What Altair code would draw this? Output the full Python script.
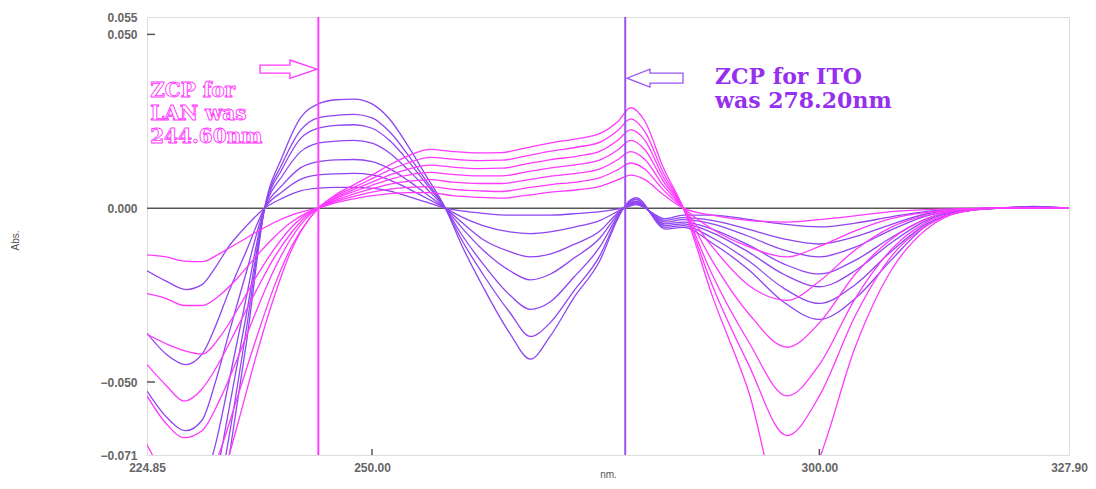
import altair as alt
import pandas as pd

# ---------------- data ----------------
# purple family (ITO-like curves)
wl_p = [224.85, 227, 229.2, 231, 232.5, 234, 236, 238, 240, 242, 244, 246, 248, 250, 252, 254,
        256, 258.2, 260, 262.4, 265.4, 267.7, 269.9, 272.5, 275.5, 277.4, 278.1, 279.5, 282.8,
        284.8, 288, 292, 296, 300, 304, 308, 312, 316, 320, 324, 327.9]
P1 = [-0.095, -0.105, -0.112, -0.110, -0.095, -0.072, -0.038, 0,
      0.015, 0.026, 0.030, 0.0312, 0.0314, 0.030, 0.0255, 0.018, 0.0095, 0,
      -0.0105, -0.0226, -0.036, -0.0434, -0.0369, -0.026, -0.0149, -0.0034, 0,
      0.003, -0.006, -0.0055, -0.010, -0.0175, -0.027, -0.032, -0.026, -0.015, -0.005, -0.001, 0, 0.0005, 0]
P2 = [-0.088, -0.097, -0.103, -0.100, -0.087, -0.066, -0.034, 0,
      0.013, 0.0224, 0.026, 0.0267, 0.027, 0.026, 0.0219, 0.0154, 0.0081, 0,
      -0.009, -0.019, -0.030, -0.0369, -0.033, -0.024, -0.0135, -0.003, 0,
      0.0025, -0.0055, -0.005, -0.0085, -0.015, -0.023, -0.0274, -0.022, -0.0125, -0.0045, -0.001, 0, 0.0004, 0]
P3 = [-0.080, -0.088, -0.094, -0.090, -0.078, -0.058, -0.030, 0,
      0.0115, 0.020, 0.023, 0.0238, 0.024, 0.023, 0.0194, 0.0137, 0.0072, 0,
      -0.0075, -0.016, -0.025, -0.0291, -0.027, -0.020, -0.011, -0.0025, 0,
      0.002, -0.005, -0.0045, -0.007, -0.0125, -0.019, -0.0226, -0.018, -0.010, -0.0035, -0.0008, 0, 0.0003, 0]
P4 = [-0.072, -0.080, -0.085, -0.080, -0.068, -0.050, -0.025, 0,
      0.0094, 0.0162, 0.0187, 0.0193, 0.0195, 0.0187, 0.0158, 0.0111, 0.0059, 0,
      -0.0055, -0.012, -0.018, -0.0206, -0.019, -0.0145, -0.0085, -0.002, 0,
      0.0018, -0.0045, -0.004, -0.006, -0.0105, -0.016, -0.0189, -0.015, -0.0085, -0.003, -0.0006, 0, 0.0003, 0]
P5 = [-0.0526, -0.060, -0.064, -0.061, -0.050, -0.036, -0.018, 0,
      0.0067, 0.0116, 0.0134, 0.0139, 0.014, 0.0134, 0.0113, 0.008, 0.0042, 0,
      -0.004, -0.009, -0.0125, -0.014, -0.0132, -0.0105, -0.0065, -0.0015, 0,
      0.0015, -0.004, -0.0033, -0.0045, -0.008, -0.012, -0.014, -0.0112, -0.0063, -0.0022, -0.0005, 0, 0.0002, 0]
P6 = [-0.036, -0.042, -0.045, -0.042, -0.034, -0.024, -0.012, 0,
      0.0048, 0.0083, 0.0096, 0.0099, 0.010, 0.0096, 0.0081, 0.0057, 0.003, 0,
      -0.0025, -0.005, -0.0068, -0.0073, -0.0068, -0.0055, -0.0035, -0.001, 0,
      0.0012, -0.0035, -0.0027, -0.0035, -0.006, -0.0088, -0.0103, -0.0082, -0.0047, -0.0016, -0.0003, 0, 0.0002, 0]
P7 = [-0.018, -0.021, -0.0234, -0.022, -0.017, -0.011, -0.005, 0,
      0.0029, 0.005, 0.0058, 0.006, 0.006, 0.0058, 0.0049, 0.0034, 0.0018, 0,
      -0.0008, -0.0015, -0.002, -0.002, -0.002, -0.0016, -0.001, -0.0003, 0,
      0.001, -0.003, -0.002, -0.002, -0.0032, -0.0046, -0.0054, -0.0043, -0.0025, -0.0009, -0.0002, 0, 0.0001, 0]

# magenta family (LAN-like curves)
wl_m = [224.85, 227, 229, 231, 233, 235, 237, 239, 241, 243, 244.0,
        246, 248, 250, 252, 254, 256.5, 259, 262, 264.5, 267, 270, 273, 275.5, 277.5, 278.9, 280.5, 282.5, 284.8,
        288, 292, 296.4, 300, 304, 308, 312, 316, 320, 324, 327.9]
M1 = [-0.076, -0.088, -0.095, -0.093, -0.080, -0.062, -0.043, -0.026, -0.012, -0.003, 0,
      0.004, 0.0068, 0.0095, 0.0125, 0.015, 0.0169, 0.0163, 0.0159, 0.0160, 0.0172, 0.0188, 0.020, 0.0215, 0.025, 0.0289, 0.025, 0.012, 0,
      -0.025, -0.052, -0.090, -0.072, -0.040, -0.018, -0.006, -0.001, 0, 0, 0]
M2 = [-0.068, -0.078, -0.084, -0.082, -0.070, -0.054, -0.038, -0.023, -0.011, -0.003, 0,
      0.0036, 0.006, 0.0085, 0.011, 0.013, 0.0146, 0.0141, 0.0137, 0.0138, 0.0149, 0.0164, 0.0176, 0.019, 0.0224, 0.0257, 0.022, 0.0105, 0,
      -0.022, -0.0445, -0.0654, -0.054, -0.031, -0.014, -0.005, -0.001, 0, 0, 0]
M3 = [-0.054, -0.062, -0.066, -0.064, -0.055, -0.043, -0.030, -0.018, -0.0085, -0.002, 0,
      0.0032, 0.0054, 0.0075, 0.0096, 0.0112, 0.0124, 0.0118, 0.0114, 0.0115, 0.0126, 0.014, 0.015, 0.0164, 0.0196, 0.0226, 0.0195, 0.0092, 0,
      -0.019, -0.038, -0.054, -0.045, -0.026, -0.012, -0.004, -0.001, 0, 0, 0]
M4 = [-0.045, -0.051, -0.0555, -0.052, -0.044, -0.034, -0.024, -0.0145, -0.007, -0.0015, 0,
      0.0028, 0.0048, 0.0066, 0.0083, 0.0095, 0.0103, 0.0097, 0.0093, 0.0093, 0.0103, 0.0116, 0.0126, 0.0139, 0.0168, 0.0195, 0.0168, 0.008, 0,
      -0.015, -0.030, -0.040, -0.033, -0.019, -0.009, -0.003, -0.0005, 0, 0, 0]
M5 = [-0.0363, -0.039, -0.041, -0.042, -0.037, -0.029, -0.020, -0.012, -0.0055, -0.0012, 0,
      0.0024, 0.0041, 0.0056, 0.0069, 0.0077, 0.0082, 0.0075, 0.0071, 0.0071, 0.008, 0.0092, 0.0101, 0.0113, 0.014, 0.0163, 0.014, 0.0067, 0,
      -0.011, -0.022, -0.0265, -0.021, -0.012, -0.0055, -0.002, -0.0004, 0, 0, 0]
M6 = [-0.0246, -0.026, -0.028, -0.028, -0.025, -0.020, -0.014, -0.0085, -0.004, -0.001, 0,
      0.002, 0.0034, 0.0046, 0.0055, 0.006, 0.0062, 0.0054, 0.005, 0.0048, 0.0057, 0.0068, 0.0076, 0.0088, 0.0111, 0.013, 0.0112, 0.0054, 0,
      -0.006, -0.011, -0.014, -0.011, -0.0065, -0.003, -0.0012, -0.0003, 0, 0, 0]
M7 = [-0.0134, -0.014, -0.0152, -0.0154, -0.013, -0.010, -0.007, -0.0042, -0.002, -0.0005, 0,
      0.0016, 0.0027, 0.0036, 0.0042, 0.0045, 0.0045, 0.0036, 0.0031, 0.0029, 0.0036, 0.0046, 0.0053, 0.0063, 0.0082, 0.0095, 0.0082, 0.004, 0,
      -0.002, -0.0035, -0.004, -0.0033, -0.0022, -0.001, -0.0004, -0.0001, 0, 0, 0]

x_ticks = [224.85, 250, 300, 327.9]
y_ticks = [-0.071, -0.05, 0.0, 0.05, 0.055]
zcp_wl = [244.0, 278.3]
zcp_colors = ["#ff40ff", "#9a55f0"]

PURPLE = "#8f45f0"
MAGENTA = "#ff38ff"

# ---------------- build table ----------------
rows = []
names, colors = [], []
for i, s in enumerate([P1, P2, P3, P4, P5, P6, P7]):
    n = f"P{i+1}"
    names.append(n); colors.append(PURPLE)
    rows += [{"series": n, "wl": w, "abs": v} for w, v in zip(wl_p, s)]
for i, s in enumerate([M1, M2, M3, M4, M5, M6, M7]):
    n = f"M{i+1}"
    names.append(n); colors.append(MAGENTA)
    rows += [{"series": n, "wl": w, "abs": v} for w, v in zip(wl_m, s)]
df = pd.DataFrame(rows)

W, H = 922, 438
xs = alt.Scale(domain=[224.85, 327.9], nice=False, zero=False)
ys = alt.Scale(domain=[-0.071, 0.055], nice=False, zero=False)

lab = dict(labelFont="Liberation Sans", labelFontWeight="bold", labelFontSize=12, labelColor="#666666",
           titleFont="Liberation Sans", titleFontWeight="normal", titleFontSize=10, titleColor="#555555",
           grid=False, ticks=False, domain=False, labelOverlap=False)

lines = alt.Chart(df).mark_line(interpolate="monotone", clip=True, strokeWidth=1.3).encode(
    x=alt.X("wl:Q", scale=xs, axis=alt.Axis(values=x_ticks, format=".2f", title="nm.",
                                            labelPadding=7, labelFlush=False, titleY=14,
                                            titleBaseline="top", **lab)),
    y=alt.Y("abs:Q", scale=ys, axis=alt.Axis(values=y_ticks, format=".3f", title="Abs.",
                                             labelPadding=10, titleX=-132, titleY=223,
                                             titleAlign="center", titleBaseline="middle", **lab)),
    color=alt.Color("series:N", scale=alt.Scale(domain=names, range=colors), legend=None),
)

zero = alt.Chart(pd.DataFrame({"abs": [0.0]})).mark_rule(color="#555555", strokeWidth=1.6).encode(
    y=alt.Y("abs:Q", scale=ys))

zcp = alt.Chart(pd.DataFrame({"wl": zcp_wl, "c": zcp_colors})).mark_rule(strokeWidth=2).encode(
    x=alt.X("wl:Q", scale=xs), color=alt.Color("c:N", scale=None))

ytick = alt.Chart(pd.DataFrame({"abs": [0.05, -0.05]})).mark_rule(color="#555555", strokeWidth=1.5).encode(
    y=alt.Y("abs:Q", scale=ys), x=alt.value(0), x2=alt.value(8))
xtick = alt.Chart(pd.DataFrame({"wl": [250.0, 300.0]})).mark_rule(color="#555555", strokeWidth=1.5).encode(
    x=alt.X("wl:Q", scale=xs), y=alt.value(H), y2=alt.value(H - 6))

arrow_right = "M-1,-0.14 L0.05,-0.14 L0.05,-0.32 L1,0 L0.05,0.32 L0.05,0.14 L-1,0.14 Z"
arrow_left = "M1,-0.18 L-0.18,-0.18 L-0.18,-0.32 L-1,0 L-0.18,0.32 L-0.18,0.18 L1,0.18 Z"

arr1 = alt.Chart(pd.DataFrame({"wl": [240.67], "abs": [0.040]})).mark_point(
    shape=arrow_right, size=3249, filled=True, fill="white", stroke=MAGENTA, strokeWidth=1.3, opacity=1
).encode(x=alt.X("wl:Q", scale=xs), y=alt.Y("abs:Q", scale=ys))
arr2 = alt.Chart(pd.DataFrame({"wl": [281.63], "abs": [0.0374]})).mark_point(
    shape=arrow_left, size=3136, filled=True, fill="white", stroke="#9a55f0", strokeWidth=1.3, opacity=1
).encode(x=alt.X("wl:Q", scale=xs), y=alt.Y("abs:Q", scale=ys))

lan_text = pd.DataFrame({"wl": [225.2, 225.2, 225.2], "abs": [0.0337, 0.0271, 0.0206],
                         "t": ["ZCP for", "LAN was", "244.60nm"]})
ito_text = pd.DataFrame({"wl": [288.33, 288.33], "abs": [0.0378, 0.0308],
                         "t": ["ZCP for ITO", "was 278.20nm"]})

t1 = alt.Chart(lan_text).mark_text(align="left", baseline="middle", font="DejaVu Serif",
                                   fontWeight="bold", fontSize=20, fill="white",
                                   stroke=MAGENTA, strokeWidth=0.9).encode(
    x=alt.X("wl:Q", scale=xs), y=alt.Y("abs:Q", scale=ys), text="t:N")
t2 = alt.Chart(ito_text).mark_text(align="left", baseline="middle", font="DejaVu Serif",
                                   fontWeight="bold", fontSize=22, color="#9630ee").encode(
    x=alt.X("wl:Q", scale=xs), y=alt.Y("abs:Q", scale=ys), text="t:N")

chart = alt.layer(zero, lines, zcp, ytick, xtick, arr1, arr2, t1, t2).properties(
    width=W, height=H,
    padding={"left": 139, "top": 9, "right": 19, "bottom": 26},
    autosize=alt.AutoSizeParams(type="none"),
).configure_view(stroke="#555555", strokeWidth=1.6).configure(background="white")

chart.save("out.html", embed_options={"renderer": "svg", "actions": False})
